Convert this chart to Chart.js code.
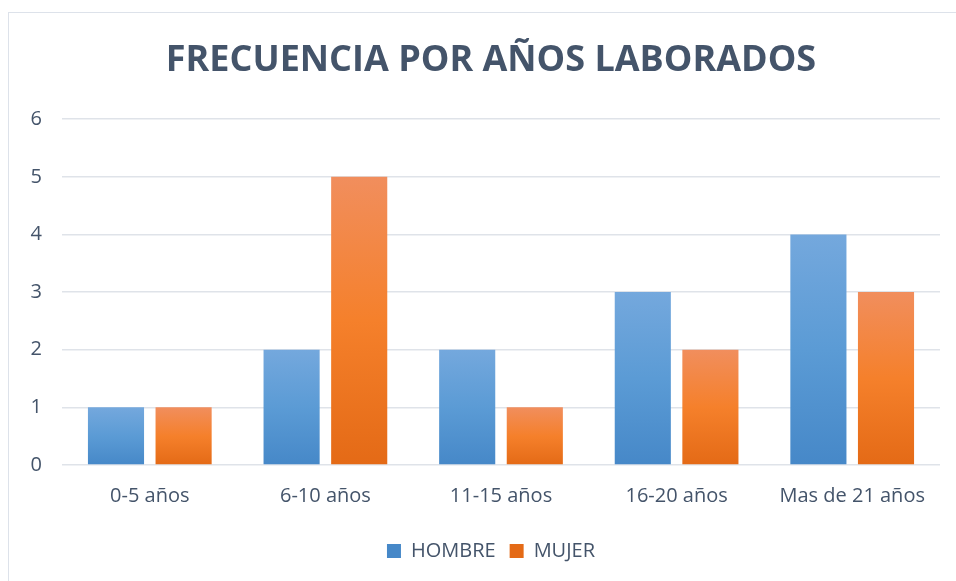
<!DOCTYPE html>
<html lang="es">
<head>
    <meta charset="UTF-8">
    <title>Frecuencia por años laborados</title>
    <script src="https://cdn.jsdelivr.net/npm/chart.js"></script>
    <style>
        body {
            margin: 0;
            background: #ffffff;
            font-family: 'Open Sans', sans-serif;
        }

        .frame {
            position: absolute;
            left: 8px;
            top: 12px;
            width: 948px;
            height: 569px;
            border-left: 1.5px solid #dde2ea;
            border-top: 1.5px solid #dde2ea;
        }

        .chart-box {
            position: absolute;
            left: 0;
            top: 0;
            width: 956px;
            height: 581px;
        }
    </style>
</head>
<body>
    <div class="frame"></div>
    <div class="chart-box">
        <canvas id="aniosChart"></canvas>
    </div>

    <script>
        const categorias = ['0-5 años', '6-10 años', '11-15 años', '16-20 años', 'Mas de 21 años'];
        const hombre = [1, 2, 2, 3, 4];
        const mujer = [1, 5, 1, 2, 3];
        const ticksY = [0, 1, 2, 3, 4, 5, 6];

        const textColor = '#44546a';

        // each bar gets its own top-to-bottom gradient, like the Office style
        function barGradient(stops) {
            return function(context) {
                const chart = context.chart;
                const { ctx, chartArea, scales } = chart;
                if (!chartArea || context.type !== 'data') return stops[1];
                const top = scales.y.getPixelForValue(context.raw);
                const bottom = scales.y.getPixelForValue(0);
                if (!isFinite(top) || bottom - top < 1) return stops[1];
                const g = ctx.createLinearGradient(0, top, 0, bottom);
                g.addColorStop(0, stops[0]);
                g.addColorStop(0.5, stops[1]);
                g.addColorStop(1, stops[2]);
                return g;
            };
        }

        const ctx = document.getElementById('aniosChart').getContext('2d');

        new Chart(ctx, {
            type: 'bar',
            data: {
                labels: categorias,
                datasets: [
                    {
                        label: 'HOMBRE',
                        data: hombre,
                        backgroundColor: barGradient(['#74a8dd', '#5b9bd5', '#4688c8'])
                    },
                    {
                        label: 'MUJER',
                        data: mujer,
                        backgroundColor: barGradient(['#f18e5d', '#f5802b', '#e46a16'])
                    }
                ]
            },
            options: {
                responsive: true,
                maintainAspectRatio: false,
                animation: false,
                categoryPercentage: 0.77,
                barPercentage: 0.83,
                layout: {
                    padding: { left: 26, right: 0, top: 0, bottom: 10 }
                },
                scales: {
                    x: {
                        grid: { display: false },
                        border: { display: false },
                        ticks: {
                            color: textColor,
                            padding: 11,
                            font: { family: 'Open Sans', size: 20 }
                        },
                        afterFit: function(scale) {
                            scale.height = 62;
                        }
                    },
                    y: {
                        min: 0,
                        max: 6,
                        afterBuildTicks: function(scale) {
                            scale.ticks = ticksY.map(v => ({ value: v }));
                        },
                        grid: {
                            color: '#dfe3e9',
                            lineWidth: 1.5,
                            drawTicks: false
                        },
                        border: { display: false },
                        ticks: {
                            color: textColor,
                            padding: 20,
                            font: { family: 'Open Sans', size: 20 }
                        },
                        afterFit: function(scale) {
                            scale.width = 36;
                        }
                    },
                    // empty right-hand spacer so the plot stops short of the edge
                    spacer: {
                        type: 'linear',
                        position: 'right',
                        grid: { display: false },
                        border: { display: false },
                        ticks: { display: false },
                        afterFit: function(scale) {
                            scale.width = 16;
                        }
                    }
                },
                plugins: {
                    title: {
                        display: true,
                        text: 'FRECUENCIA POR AÑOS LABORADOS',
                        color: textColor,
                        font: { family: 'Open Sans', size: 36, weight: 'bold' },
                        padding: { top: 39, bottom: 37 }
                    },
                    legend: {
                        position: 'bottom',
                        labels: {
                            color: textColor,
                            boxWidth: 14,
                            boxHeight: 14,
                            padding: 14,
                            font: { family: 'Open Sans', size: 20 }
                        }
                    },
                    tooltip: { enabled: false }
                }
            }
        });
    </script>
</body>
</html>
